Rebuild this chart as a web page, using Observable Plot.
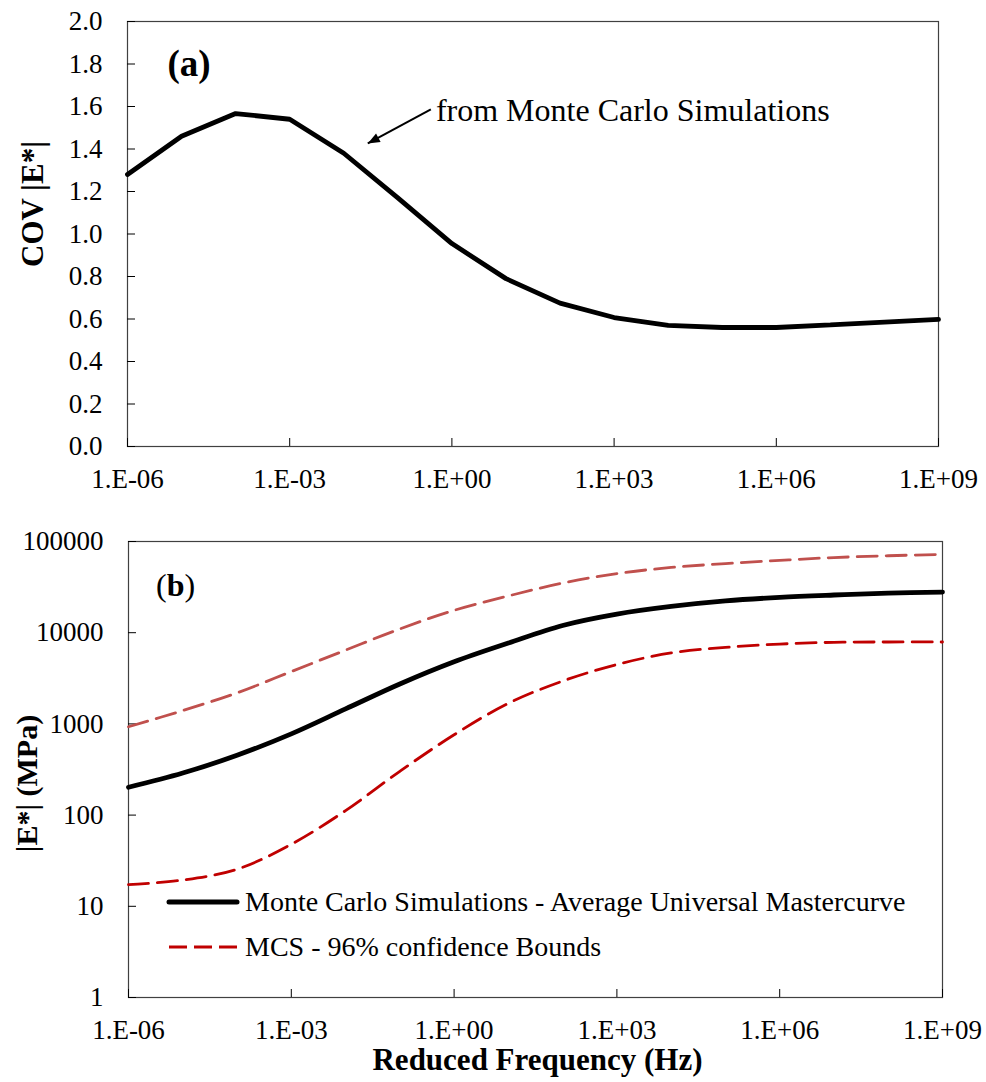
<!DOCTYPE html>
<html>
<head>
<meta charset="utf-8">
<script src="https://cdn.jsdelivr.net/npm/d3@7"></script>
<script src="https://cdn.jsdelivr.net/npm/@observablehq/plot@0.6"></script>
<style>
  body { margin: 0; background: #fff; }
  #wrap { position: relative; width: 986px; height: 1082px; font-family: "Liberation Serif", "Times New Roman", serif; color: #000; }
  #wrap svg { display: block; }
  .ov { position: absolute; white-space: nowrap; line-height: 36px; }
</style>
</head>
<body>
<div id="wrap">
  <div id="panelA"></div>
  <div id="panelB"></div>
</div>
<script>
// ---- Data ----
const freq = [1e-6, 1e-5, 1e-4, 1e-3, 1e-2, 1e-1, 1e0, 1e1, 1e2, 1e3, 1e4, 1e5, 1e6, 1e7, 1e8, 1e9];
const cov = [1.28, 1.46, 1.567, 1.54, 1.38, 1.17, 0.955, 0.79, 0.675, 0.607, 0.57, 0.56, 0.56, 0.572, 0.585, 0.598];
const meanModulus = [202, 289, 453, 778, 1460, 2740, 4800, 7700, 12000, 16000, 19400, 22300, 24400, 25900, 27200, 27900];
const upperBound = [930, 1400, 2190, 3750, 6440, 11000, 17600, 25300, 35000, 44500, 51900, 57300, 62100, 66700, 69800, 72200];
const lowerBound = [17.3, 19.4, 25.5, 47.9, 112, 302, 760, 1680, 2950, 4480, 6000, 6900, 7500, 7850, 7910, 7910];

const xTicks = [1e-6, 1e-3, 1e0, 1e3, 1e6, 1e9];
const xTickLabels = ["1.E-06", "1.E-03", "1.E+00", "1.E+03", "1.E+06", "1.E+09"];
const covTicks = [0, 0.2, 0.4, 0.6, 0.8, 1.0, 1.2, 1.4, 1.6, 1.8, 2.0];
const covTickLabels = ["0.0", "0.2", "0.4", "0.6", "0.8", "1.0", "1.2", "1.4", "1.6", "1.8", "2.0"];
const modTicks = [1, 10, 100, 1000, 10000, 100000];
const modTickLabels = ["1", "10", "100", "1000", "10000", "100000"];

const annotationText = ["from Monte Carlo Simulations"];
const annotationTextPos = [0.506, 1.581];
const arrowFrom = [0.408, 1.586];
const arrowTo = [0.0278, 1.426];

const legendLabels = ["Monte Carlo Simulations - Average Universal Mastercurve", "MCS - 96% confidence Bounds"];

const font = '"Liberation Serif", "Times New Roman", serif';
const lab = (ticks, labels) => d => labels[ticks.indexOf(d)];

// filled triangular arrow head
function filledArrow(color) {
  const m = document.createElementNS("http://www.w3.org/2000/svg", "marker");
  m.setAttribute("viewBox", "-10 -5 10 10");
  m.setAttribute("markerWidth", 14);
  m.setAttribute("markerHeight", 12);
  m.setAttribute("markerUnits", "userSpaceOnUse");
  m.setAttribute("refX", 0);
  m.setAttribute("refY", 0);
  m.setAttribute("orient", "auto");
  const p = document.createElementNS("http://www.w3.org/2000/svg", "path");
  p.setAttribute("d", "M-10,-4L0,0L-10,4Z");
  p.setAttribute("fill", color);
  p.setAttribute("stroke", "none");
  m.appendChild(p);
  return m;
}

// ---- Top panel (a) ----
const chartA = Plot.plot({
  width: 986, height: 500,
  marginLeft: 127, marginRight: 48, marginTop: 21, marginBottom: 54,
  style: { fontFamily: font, fontSize: "27px", color: "#000", background: "#fff", overflow: "visible" },
  x: { type: "log", domain: [1e-6, 1e9] },
  y: { domain: [0, 2] },
  marks: [
    Plot.frame({ stroke: "#404040", strokeWidth: 1.2 }),
    Plot.axisX({ ticks: xTicks, tickFormat: lab(xTicks, xTickLabels), tickSize: -8, tickPadding: 30, label: null }),
    Plot.axisY({ ticks: covTicks, tickFormat: lab(covTicks, covTickLabels), tickSize: -8, tickPadding: 33, label: null }),
    Plot.line(freq, { x: d => d, y: (d, i) => cov[i], stroke: "#000", strokeWidth: 4.8, strokeLinejoin: "miter" }),
    Plot.link([0], { x1: () => arrowFrom[0], y1: () => arrowFrom[1], x2: () => arrowTo[0], y2: () => arrowTo[1], stroke: "#000", strokeWidth: 2, markerEnd: filledArrow }),
    Plot.text(annotationText, { x: () => annotationTextPos[0], y: () => annotationTextPos[1], text: d => d, textAnchor: "start", fontSize: 32, fill: "#000" }),
    Plot.text(["(a)"], { frameAnchor: "top-left", dx: 40, dy: 43, text: d => d, textAnchor: "start", lineAnchor: "middle", fontSize: 37, fontWeight: "bold" }),
    Plot.text(["COV |E*|"], { frameAnchor: "left", dx: -94, dy: -30, rotate: -90, text: d => d, textAnchor: "middle", lineAnchor: "middle", fontSize: 31, fontWeight: "bold" })
  ]
});
document.getElementById("panelA").appendChild(chartA);

// ---- Bottom panel (b) ----
const chartB = Plot.plot({
  width: 986, height: 582,
  marginLeft: 128, marginRight: 44, marginTop: 41, marginBottom: 85,
  style: { fontFamily: font, fontSize: "27px", color: "#000", background: "#fff", overflow: "visible" },
  x: { type: "log", domain: [1e-6, 1e9] },
  y: { type: "log", domain: [1, 100000] },
  marks: [
    Plot.frame({ stroke: "#404040", strokeWidth: 1.2 }),
    Plot.axisX({ ticks: xTicks, tickFormat: lab(xTicks, xTickLabels), tickSize: -8, tickPadding: 30, label: null }),
    Plot.axisY({ ticks: modTicks, tickFormat: lab(modTicks, modTickLabels), tickSize: -8, tickPadding: 33, label: null }),
    Plot.line(freq, { x: d => d, y: (d, i) => upperBound[i], stroke: "#C0504D", strokeWidth: 2.8, strokeDasharray: "20,9", curve: "catmull-rom" }),
    Plot.line(freq, { x: d => d, y: (d, i) => lowerBound[i], stroke: "#C00000", strokeWidth: 2.8, strokeDasharray: "20,9", curve: "catmull-rom" }),
    Plot.line(freq, { x: d => d, y: (d, i) => meanModulus[i], stroke: "#000", strokeWidth: 4.8, curve: "catmull-rom" }),
    Plot.text(["Reduced Frequency (Hz)"], { frameAnchor: "bottom", dx: 2, dy: 63, text: d => d, textAnchor: "middle", lineAnchor: "middle", fontSize: 31, fontWeight: "bold" }),
    Plot.text(["|E*| (MPa)"], { frameAnchor: "left", dx: -101, dy: 14, rotate: -90, text: d => d, textAnchor: "middle", lineAnchor: "middle", fontSize: 30, fontWeight: "bold" })
  ]
});
document.getElementById("panelB").appendChild(chartB);

// ---- Overlays: panel label (b) and legend ----
const wrap = document.getElementById("wrap");
function addDiv(html, left, centerY, size) {
  const d = document.createElement("div");
  d.className = "ov";
  d.style.left = left + "px";
  d.style.top = (centerY - 18) + "px";
  d.style.fontSize = size + "px";
  d.innerHTML = html;
  wrap.appendChild(d);
}
addDiv("(<b>b</b>)", 156, 585, 32);

const legendItems = [
  { label: legendLabels[0], stroke: "#000", width: 5, dash: null, y: 902 },
  { label: legendLabels[1], stroke: "#C00000", width: 2.8, dash: "18,7", y: 947 }
];
legendItems.forEach(it => {
  const svg = d3.create("svg").attr("width", 80).attr("height", 20)
    .style("position", "absolute").style("left", "163px").style("top", (it.y - 10) + "px");
  svg.append("line").attr("x1", 6).attr("x2", 74).attr("y1", 10).attr("y2", 10)
    .attr("stroke", it.stroke).attr("stroke-width", it.width)
    .attr("stroke-linecap", it.dash ? "butt" : "round")
    .attr("stroke-dasharray", it.dash);
  wrap.appendChild(svg.node());
  addDiv(it.label, 245, it.y, 28);
});
</script>
</body>
</html>
